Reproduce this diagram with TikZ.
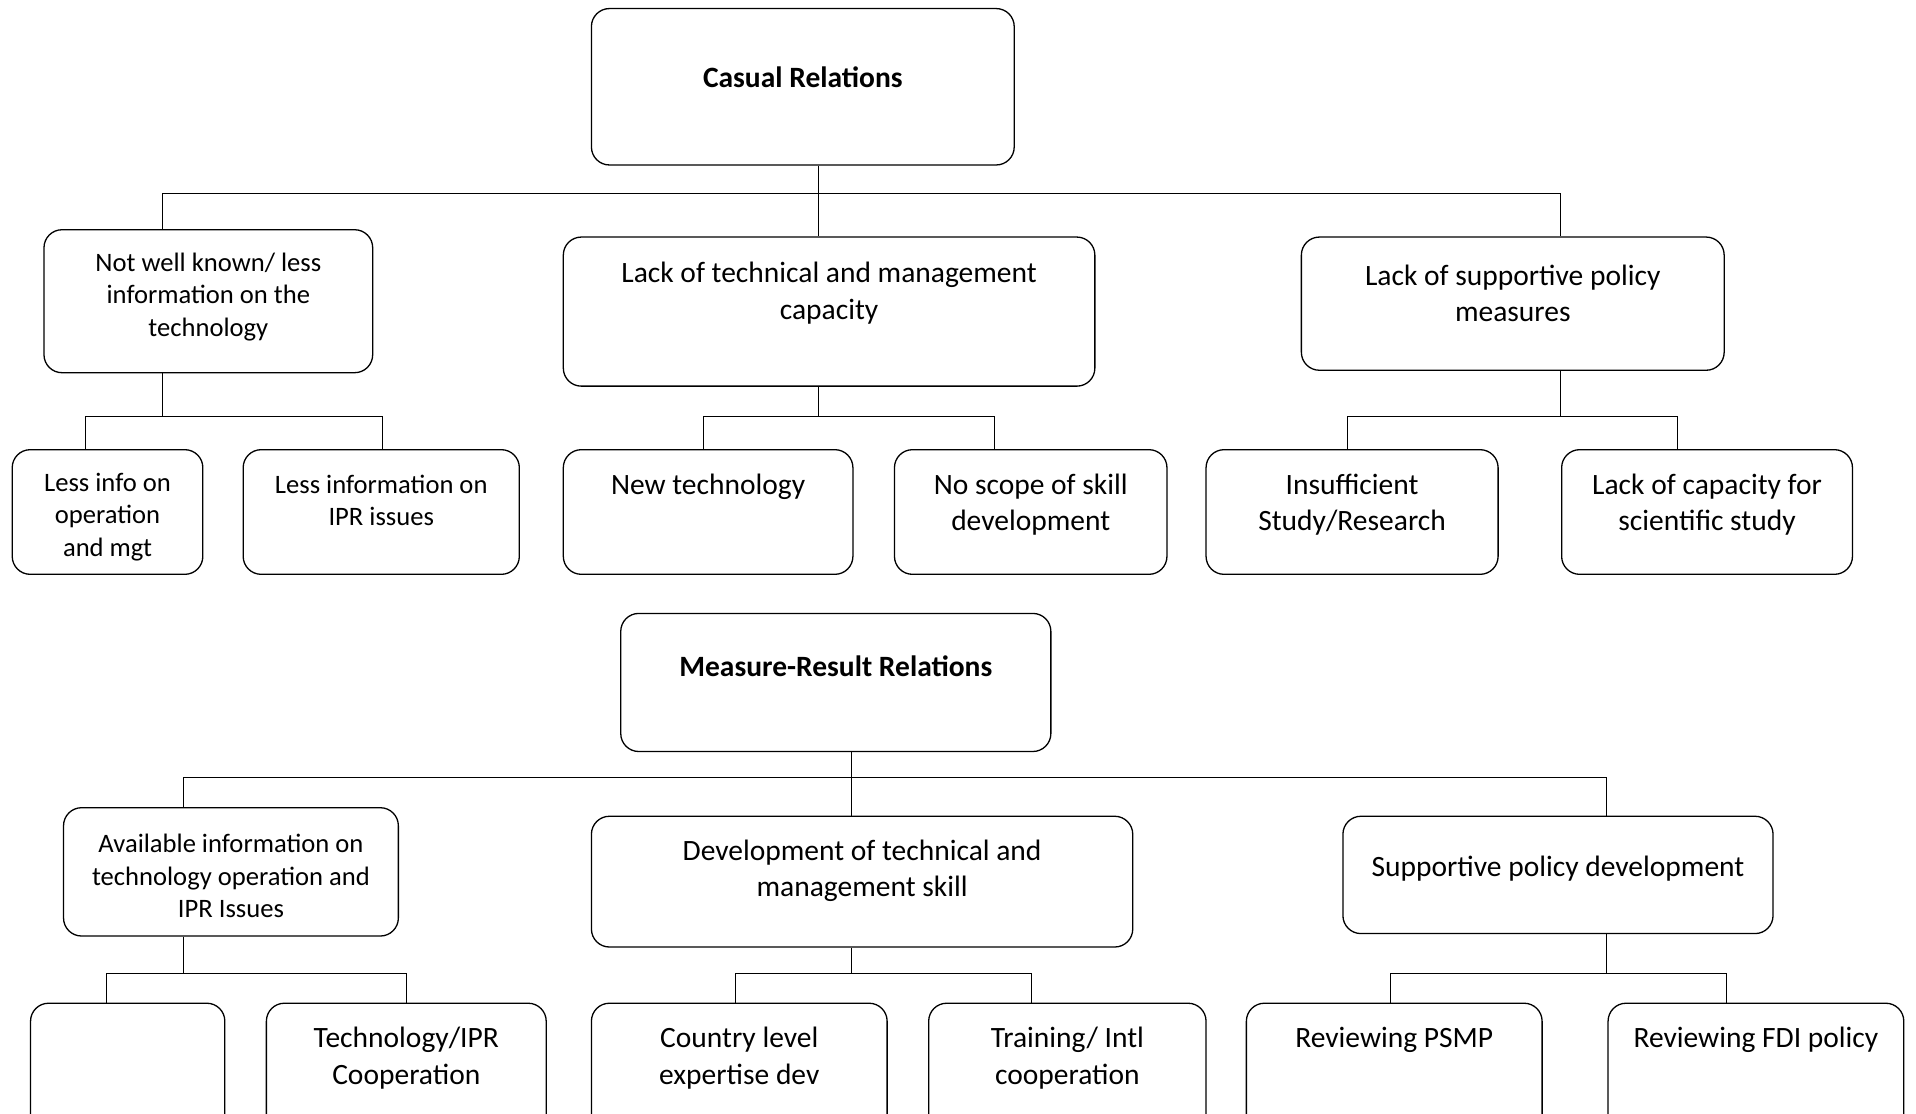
\documentclass[tikz,border=0pt]{standalone}
\usepackage{fontspec}
\setmainfont{Carlito}
\usetikzlibrary{fit}
\newcommand\mybox[3]{\node[box, fit={#2 #3}] (#1) {};}
\begin{document}
\begin{tikzpicture}[x=1.2219pt,y=-1.2219pt,
 box/.style={draw, line width=1.3pt, rounded corners=18pt, inner sep=0pt},
 ln/.style={line width=1.1pt},
 med/.style={align=center, font=\fontsize{29.5}{36.7}\selectfont, inner sep=0pt},
 sml/.style={align=center, font=\fontsize{26.6}{32.6}\selectfont, inner sep=0pt},
 ttl/.style={align=center, font=\bfseries\fontsize{29.5}{34}\selectfont, inner sep=0pt}]
\useasboundingbox (0,0) rectangle (1568,911);
\clip (0,0) rectangle (1568,911);
% ---------- Casual relations ----------
\mybox{r}{(484,7)}{(830,135)}
\node[ttl] (rt) at (657,63) {Casual Relations};
\mybox{a}{(36,188)}{(305,305)}
\node[sml] (at) at (170.5,243) {Not well known/ less\\information on the\\technology};
\mybox{b}{(461,194)}{(896,316)}
\node[med] (bt) at (678.5,240) {Lack of technical and management\\capacity};
\mybox{c}{(1065,194)}{(1411,303)}
\node[med] (ct) at (1238,240) {Lack of supportive policy\\measures};
\mybox{a1}{(10,368)}{(166,470)}
\node[sml] (a1t) at (88,423) {Less info on\\operation\\and mgt};
\mybox{a2}{(199,368)}{(425,470)}
\node[sml] (a2t) at (312,409.5) {Less information on\\IPR issues};
\mybox{b1}{(461,368)}{(698,470)}
\node[med] (b1t) at (579.5,398) {New technology};
\mybox{b2}{(732,368)}{(955,470)}
\node[med] (b2t) at (843.5,413) {No scope of skill\\development};
\mybox{c1}{(987,368)}{(1226,470)}
\node[med] (c1t) at (1106.5,413) {Insufficient\\Study/Research};
\mybox{c2}{(1278,368)}{(1516,470)}
\node[med] (c2t) at (1397,413) {Lack of capacity for\\scientific study};
% connectors
\coordinate (tL) at (133,158); \coordinate (tR) at (1277,158); \coordinate (tM) at (670,158);
\draw[ln] (a.north -| tL) -- (tL) -- (tR) -- (c.north -| tR);
\draw[ln] (r.south -| tM) -- (b.north -| tM);
\coordinate (aL) at (70,341); \coordinate (aR) at (313,341); \coordinate (aM) at (133,341);
\draw[ln] (a.south -| aM) -- (aM);
\draw[ln] (a1.north -| aL) -- (aL) -- (aR) -- (a2.north -| aR);
\coordinate (bL) at (576,341); \coordinate (bR) at (814,341); \coordinate (bM) at (670,341);
\draw[ln] (b.south -| bM) -- (bM);
\draw[ln] (b1.north -| bL) -- (bL) -- (bR) -- (b2.north -| bR);
\coordinate (cL) at (1103,341); \coordinate (cR) at (1373,341); \coordinate (cM) at (1277,341);
\draw[ln] (c.south -| cM) -- (cM);
\draw[ln] (c1.north -| cL) -- (cL) -- (cR) -- (c2.north -| cR);
% ---------- Measure-result relations ----------
\mybox{s}{(508,502)}{(860,615)}
\node[ttl] (st) at (684,545) {Measure-Result Relations};
\mybox{d}{(52,661)}{(326,766)}
\node[sml] (dt) at (189,717) {Available information on\\technology operation and\\IPR Issues};
\mybox{e}{(484,668)}{(927,775)}
\node[med] (et) at (705.5,712.5) {Development of technical and\\management skill};
\mybox{f}{(1099,668)}{(1451,764)}
\node[med] (ft) at (1275,711) {Supportive policy development};
\mybox{d1}{(25,821)}{(184,930)}
\mybox{d2}{(218,821)}{(447,930)}
\node[med] (d2t) at (332.5,866) {Technology/IPR\\Cooperation};
\mybox{e1}{(484,821)}{(726,930)}
\node[med] (e1t) at (605,866) {Country level\\expertise dev};
\mybox{e2}{(760,821)}{(987,930)}
\node[med] (e2t) at (873.5,866) {Training/ Intl\\cooperation};
\mybox{f1}{(1020,821)}{(1262,930)}
\node[med] (f1t) at (1141,851) {Reviewing PSMP};
\mybox{f2}{(1316,821)}{(1558,930)}
\node[med] (f2t) at (1437,851) {Reviewing FDI policy};
% connectors
\coordinate (uL) at (150,636); \coordinate (uR) at (1315,636); \coordinate (uM) at (697,636);
\draw[ln] (d.north -| uL) -- (uL) -- (uR) -- (f.north -| uR);
\draw[ln] (s.south -| uM) -- (e.north -| uM);
\coordinate (dL) at (87,797); \coordinate (dR) at (333,797); \coordinate (dM) at (150,797);
\draw[ln] (d.south -| dM) -- (dM);
\draw[ln] (d1.north -| dL) -- (dL) -- (dR) -- (d2.north -| dR);
\coordinate (eL) at (602,797); \coordinate (eR) at (844,797); \coordinate (eM) at (697,797);
\draw[ln] (e.south -| eM) -- (eM);
\draw[ln] (e1.north -| eL) -- (eL) -- (eR) -- (e2.north -| eR);
\coordinate (fL) at (1138,797); \coordinate (fR) at (1413,797); \coordinate (fM) at (1315,797);
\draw[ln] (f.south -| fM) -- (fM);
\draw[ln] (f1.north -| fL) -- (fL) -- (fR) -- (f2.north -| fR);
\end{tikzpicture}
\end{document}
